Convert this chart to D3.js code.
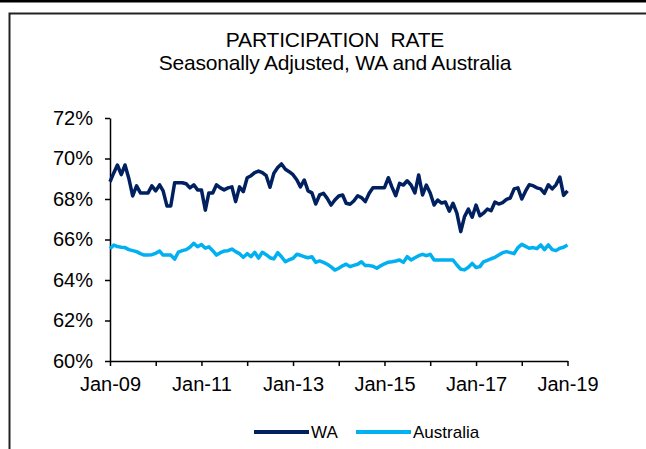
<!DOCTYPE html>
<html>
<head>
<meta charset="utf-8">
<script src="https://cdn.jsdelivr.net/npm/d3@7"></script>
<style>
  body { margin: 0; background: #fff; }
  svg { display: block; font-family: 'Liberation Sans', Arial, sans-serif; }
  .axis text { font-size: 20px; fill: #000; }
  .axis path, .axis line { stroke: #000; stroke-width: 1.5px; }
</style>
</head>
<body>
<svg id="chart"></svg>
<script>
// Monthly, Jan-09 .. Jan-19 (121 months)
const startMonth = new Date(2009, 0, 1);

const waValues = [
  68.85, 69.3, 69.68, 69.2, 69.68, 69.0, 68.15, 68.65, 68.3, 68.3, 68.3, 68.65,
  68.4, 68.7, 68.4, 67.65, 67.65, 68.8, 68.8, 68.8, 68.75, 68.55, 68.7, 68.45,
  68.45, 67.45, 68.3, 68.3, 68.7, 68.55, 68.45, 68.55, 68.6, 67.87, 68.6, 68.36,
  69.05, 69.15, 69.3, 69.38, 69.3, 69.15, 68.58, 69.27, 69.55, 69.73, 69.47, 69.35,
  69.2, 68.94, 68.6, 68.94, 68.4, 68.3, 67.75, 68.2, 68.28, 68.03, 67.7, 67.95,
  68.15, 68.2, 67.79, 67.74, 67.9, 68.16, 68.07, 67.87, 68.28, 68.56, 68.56, 68.56,
  68.56, 69.05, 68.6, 68.16, 68.77, 68.69, 68.9, 68.69, 68.3, 69.19, 68.2, 68.69,
  68.3, 67.7, 67.95, 67.8, 67.85, 67.4, 67.79, 67.3, 66.39, 67.13, 67.5, 67.1,
  67.7, 67.17, 67.3, 67.5, 67.42, 67.85, 67.75, 67.82, 67.98, 68.05, 68.5, 68.55,
  68.0, 68.4, 68.7, 68.66, 68.55, 68.5, 68.28, 68.7, 68.5, 68.7, 69.08, 68.18,
  68.4
];

const ausValues = [
  65.55, 65.73, 65.65, 65.62, 65.6, 65.5, 65.45, 65.4, 65.3, 65.23, 65.23, 65.25,
  65.32, 65.43, 65.23, 65.23, 65.23, 65.03, 65.38, 65.45, 65.5, 65.62, 65.81, 65.64,
  65.75, 65.57, 65.64, 65.45, 65.23, 65.35, 65.43, 65.45, 65.53, 65.4, 65.3, 65.12,
  65.3, 65.15, 65.37, 65.08, 65.37, 65.25, 65.1, 65.04, 65.35, 65.15, 64.9, 65.0,
  65.07, 65.27, 65.22, 65.15, 65.1, 65.15, 64.87, 64.94, 64.87, 64.78, 64.65, 64.49,
  64.58, 64.7, 64.78, 64.66, 64.72, 64.78, 64.9, 64.71, 64.71, 64.68, 64.58, 64.7,
  64.8, 64.88, 64.9, 64.94, 64.99, 64.87, 65.15, 64.99, 65.1, 65.2, 65.27, 65.2,
  65.27, 64.99, 64.99, 64.99, 64.99, 64.99, 64.99, 64.74, 64.53, 64.5, 64.63, 64.82,
  64.62, 64.66, 64.9, 64.97, 65.05, 65.12, 65.23, 65.35, 65.4, 65.35, 65.3, 65.6,
  65.76, 65.66, 65.57, 65.6, 65.55, 65.73, 65.5, 65.73, 65.5, 65.45, 65.57, 65.62,
  65.73
];

const seriesNames = ['WA', 'Australia'];
const seriesColors = ['#002060', '#00b0f0'];
const yTicks = [60, 62, 64, 66, 68, 70, 72];
const xTickLabels = ['Jan-09', 'Jan-11', 'Jan-13', 'Jan-15', 'Jan-17', 'Jan-19'];
const titleLines = ['PARTICIPATION  RATE', 'Seasonally Adjusted, WA and Australia'];

class LineChart {

  constructor(_config) {
    this.config = {
      parentElement: _config.parentElement,
      containerWidth: 646,
      containerHeight: 449,
      plot: { left: 110, right: 567.5, top: 118, bottom: 361 }
    };
    this.initVis();
  }

  initVis() {
    let vis = this;
    const p = vis.config.plot;

    vis.svg = d3.select(vis.config.parentElement)
      .attr('width', vis.config.containerWidth)
      .attr('height', vis.config.containerHeight);

    // frame like the pasted excel chart
    vis.svg.append('rect')
      .attr('x', 0).attr('y', 0)
      .attr('width', vis.config.containerWidth).attr('height', 2.5)
      .attr('fill', '#000');
    vis.svg.append('path')
      .attr('d', `M9.5,${vis.config.containerHeight} V13.5 H${vis.config.containerWidth}`)
      .attr('fill', 'none')
      .attr('stroke', '#222')
      .attr('stroke-width', 2);

    vis.svg.selectAll('.title')
      .data(titleLines)
      .join('text')
      .attr('class', 'title')
      .attr('x', 335)
      .attr('y', (d, i) => 47 + i * 23)
      .attr('text-anchor', 'middle')
      .style('font-size', '21px')
      .style('letter-spacing', '-0.2px')
      .style('white-space', 'pre')
      .text(d => d);

    vis.xScale = d3.scaleTime()
      .domain([startMonth, d3.timeMonth.offset(startMonth, 120)])
      .range([p.left, p.right]);

    vis.yScale = d3.scaleLinear()
      .domain([60, 72])
      .range([p.bottom, p.top]);

    vis.xAxis = d3.axisBottom(vis.xScale)
      .tickValues(d3.timeYear.range(startMonth, d3.timeMonth.offset(startMonth, 121)))
      .tickSize(5)
      .tickSizeOuter(0)
      .tickPadding(11)
      .tickFormat(d => {
        const lab = d3.timeFormat('Jan-%y')(d);
        return xTickLabels.includes(lab) ? lab : '';
      });

    vis.yAxis = d3.axisLeft(vis.yScale)
      .tickValues(yTicks)
      .tickSize(5)
      .tickSizeOuter(0)
      .tickPadding(12)
      .tickFormat(d => d + '%');

    vis.xAxisG = vis.svg.append('g')
      .attr('class', 'axis x-axis')
      .attr('transform', `translate(0,${p.bottom})`);
    vis.yAxisG = vis.svg.append('g')
      .attr('class', 'axis y-axis')
      .attr('transform', `translate(${p.left},0)`);

    vis.lineG = vis.svg.append('g');
    vis.legendG = vis.svg.append('g');
  }

  updateVis() {
    let vis = this;
    vis.data = [waValues, ausValues].map((vals, i) => ({
      name: seriesNames[i],
      color: seriesColors[i],
      values: vals.map((v, j) => ({ date: d3.timeMonth.offset(startMonth, j), value: v }))
    }));
    vis.line = d3.line()
      .x(d => vis.xScale(d.date))
      .y(d => vis.yScale(d.value));
    vis.renderVis();
  }

  renderVis() {
    let vis = this;

    vis.xAxisG.call(vis.xAxis)
      .call(g => g.selectAll('text').attr('dy', '0.71em'));
    vis.yAxisG.call(vis.yAxis);

    // draw australia first so WA sits on top
    vis.lineG.selectAll('.series')
      .data(vis.data.slice().reverse())
      .join('path')
      .attr('class', 'series')
      .attr('fill', 'none')
      .attr('stroke', d => d.color)
      .attr('stroke-width', 3.5)
      .attr('stroke-linejoin', 'round')
      .attr('d', d => vis.line(d.values));

    // legend
    const legendX = [254, 356];
    const item = vis.legendG.selectAll('.legend-item')
      .data(vis.data)
      .join('g')
      .attr('class', 'legend-item')
      .attr('transform', (d, i) => `translate(${legendX[i]},432)`);
    item.append('line')
      .attr('x1', 0).attr('x2', 55)
      .attr('stroke', d => d.color)
      .attr('stroke-width', 4);
    item.append('text')
      .attr('x', 57)
      .attr('dy', '0.35em')
      .style('font-size', '17px')
      .text(d => d.name);
  }
}

const chart = new LineChart({ parentElement: '#chart' });
chart.updateVis();
</script>
</body>
</html>
